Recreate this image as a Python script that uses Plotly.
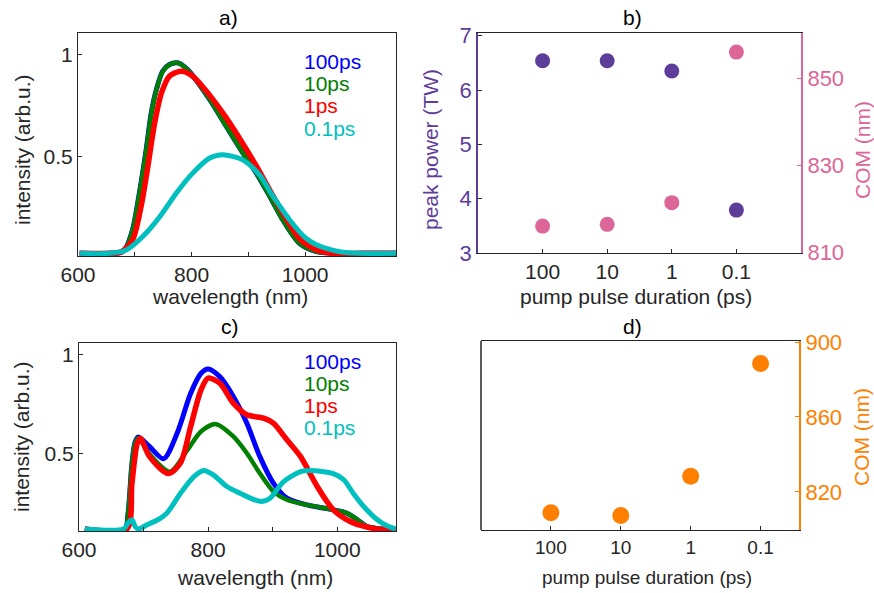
import plotly.graph_objects as go

W, H = 874, 593

# ---------------- data ----------------
# panel a) spectra
a_wl_100 = [603, 655, 673, 682, 696, 708, 720, 729, 738, 749, 761, 776, 793, 832, 861, 890, 914, 935, 961, 990, 1020, 1050, 1100, 1160]
a_int_100 = [0.028, 0.028, 0.03, 0.044, 0.142, 0.322, 0.534, 0.714, 0.828, 0.918, 0.951, 0.959, 0.926, 0.78, 0.649, 0.52, 0.42, 0.32, 0.19, 0.077, 0.036, 0.028, 0.028, 0.028]
a_wl_10 = a_wl_100
a_int_10 = [0.028, 0.028, 0.03, 0.044, 0.140, 0.318, 0.530, 0.710, 0.826, 0.916, 0.950, 0.958, 0.925, 0.78, 0.649, 0.52, 0.42, 0.32, 0.19, 0.077, 0.036, 0.028, 0.028, 0.028]
a_wl_1 = [603, 655, 676, 696, 711, 723, 735, 747, 761, 782, 802, 832, 861, 890, 915, 935, 961, 990, 1020, 1049, 1100, 1160]
a_int_1 = [0.028, 0.028, 0.036, 0.093, 0.256, 0.452, 0.665, 0.812, 0.894, 0.918, 0.894, 0.80, 0.69, 0.565, 0.45, 0.35, 0.224, 0.10, 0.044, 0.028, 0.028, 0.028]
a_wl_01 = [603, 655, 685, 714, 744, 773, 802, 832, 855, 890, 920, 938, 955, 973, 1000, 1020, 1061, 1100, 1160]
a_int_01 = [0.028, 0.028, 0.044, 0.11, 0.207, 0.322, 0.42, 0.494, 0.51, 0.485, 0.41, 0.33, 0.26, 0.19, 0.105, 0.07, 0.036, 0.028, 0.028]

# panel c) spectra
c_wl_100 = [609, 671, 676, 682, 687, 692, 709, 731, 752, 773, 789, 800, 818, 839, 860, 880, 901, 922, 953, 994, 1015, 1031, 1046, 1072, 1090]
c_int_100 = [0.12, 0.12, 0.2, 0.45, 0.56, 0.585, 0.537, 0.475, 0.604, 0.806, 0.907, 0.929, 0.89, 0.79, 0.655, 0.487, 0.352, 0.276, 0.242, 0.217, 0.2, 0.167, 0.133, 0.12, 0.12]
c_wl_10 = [609, 671, 676, 682, 687, 692, 709, 741, 768, 789, 812, 839, 860, 880, 901, 922, 953, 994, 1015, 1031, 1046, 1072, 1090]
c_int_10 = [0.12, 0.12, 0.2, 0.45, 0.555, 0.58, 0.5, 0.41, 0.52, 0.613, 0.65, 0.588, 0.503, 0.402, 0.31, 0.268, 0.242, 0.217, 0.2, 0.167, 0.133, 0.12, 0.12]
c_wl_1 = [609, 674, 682, 690, 695, 709, 738, 757, 773, 789, 800, 818, 839, 860, 886, 901, 922, 943, 969, 994, 1020, 1046, 1072, 1090]
c_int_1 = [0.12, 0.12, 0.35, 0.55, 0.579, 0.487, 0.40, 0.453, 0.638, 0.823, 0.882, 0.857, 0.756, 0.697, 0.68, 0.655, 0.571, 0.487, 0.335, 0.217, 0.158, 0.13, 0.116, 0.115]
c_wl_01 = [609, 669, 676, 682, 687, 692, 705, 720, 736, 757, 778, 793, 808, 829, 850, 870, 883, 896, 917, 943, 958, 994, 1010, 1025, 1041, 1062, 1077, 1090]
c_int_01 = [0.12, 0.12, 0.15, 0.167, 0.133, 0.12, 0.141, 0.163, 0.2, 0.30, 0.385, 0.416, 0.394, 0.335, 0.30, 0.27, 0.259, 0.276, 0.36, 0.41, 0.416, 0.40, 0.369, 0.30, 0.234, 0.167, 0.136, 0.12]

# panels b) and d)
durations = ["100", "10", "1", "0.1"]
b_peak_power = [6.54, 6.54, 6.35, 3.79]
b_com = [816.0, 816.4, 821.4, 856.1]
d_com = [808.8, 807.4, 828.3, 888.6]

series_labels = ["100ps", "10ps", "1ps", "0.1ps"]
series_colors = ["#0000FF", "#008000", "#FF0000", "#00BFBF"]
PURPLE, PINK, ORANGE = "#5E3C99", "#DD6699", "#FF7F00"
TXT = "#262626"
FONT = "Liberation Sans, Arial, sans-serif"


def px(x):
    return x / W


def py(y):
    return 1 - y / H


fig = go.Figure()

widths = [5, 4.5, 5.5, 5]
a_sets = [(a_wl_100, a_int_100), (a_wl_10, a_int_10), (a_wl_1, a_int_1), (a_wl_01, a_int_01)]
c_sets = [(c_wl_100, c_int_100), (c_wl_10, c_int_10), (c_wl_1, c_int_1), (c_wl_01, c_int_01)]
for (xs, ys), col, w in zip(a_sets, series_colors, widths):
    fig.add_trace(go.Scatter(x=xs, y=ys, mode="lines", line=dict(color=col, width=w, shape="spline", smoothing=0.8),
                             xaxis="x", yaxis="y", showlegend=False))
for (xs, ys), col, w in zip(c_sets, series_colors, widths):
    fig.add_trace(go.Scatter(x=xs, y=ys, mode="lines", line=dict(color=col, width=w, shape="spline", smoothing=0.8),
                             xaxis="x3", yaxis="y4", showlegend=False))

fig.add_trace(go.Scatter(x=durations, y=b_peak_power, mode="markers", marker=dict(color=PURPLE, size=15),
                         xaxis="x2", yaxis="y2", showlegend=False))
fig.add_trace(go.Scatter(x=durations, y=b_com, mode="markers", marker=dict(color=PINK, size=15),
                         xaxis="x2", yaxis="y3", showlegend=False))
fig.add_trace(go.Scatter(x=durations, y=d_com, mode="markers", marker=dict(color=ORANGE, size=17),
                         xaxis="x4", yaxis="y5", showlegend=False))

tickfont = dict(family=FONT, size=21, color=TXT)
common = dict(showgrid=False, zeroline=False, ticks="inside", ticklen=4, tickcolor=TXT, automargin=False,
              showline=True, linecolor=TXT, linewidth=1, tickfont=tickfont)

fig.update_layout(
    template="none",
    width=W, height=H, margin=dict(l=0, r=0, t=0, b=0, autoexpand=False),
    paper_bgcolor="white", plot_bgcolor="rgba(0,0,0,0)",
    font=dict(family=FONT, color=TXT),
    # a)
    xaxis=dict(common, domain=[px(78), px(396)], anchor="y", range=[600, 1160],
               tickvals=[600, 700, 800, 900, 1000], ticktext=["600", "", "800", "", "1000"], mirror=True),
    yaxis=dict(common, domain=[py(256), py(33)], anchor="x", range=[0.015, 1.105],
               tickvals=[0.5, 1], ticktext=["0.5", "1"], mirror=True),
    # b)
    xaxis2=dict(common, domain=[px(478), px(801)], anchor="y2", type="category", range=[-1, 4],
                mirror=True),
    yaxis2=dict(common, domain=[py(253), py(33)], anchor="x2", range=[3, 7.05],
                tickvals=[3, 4, 5, 6, 7], linecolor=PURPLE, linewidth=1.5,
                tickfont=dict(family=FONT, size=22, color=PURPLE)),
    yaxis3=dict(common, overlaying="y2", anchor="x2", side="right", range=[809.8, 860.5],
                tickvals=[810, 830, 850], linecolor=PINK, linewidth=2, tickcolor=PINK,
                tickfont=dict(family=FONT, size=22, color=PINK)),
    # c)
    xaxis3=dict(common, domain=[px(79), px(396)], anchor="y4", range=[600, 1091],
                tickvals=[600, 700, 800, 900, 1000], ticktext=["600", "", "800", "", "1000"], mirror=True),
    yaxis4=dict(common, domain=[py(531), py(343)], anchor="x3", range=[0.11, 1.06],
                tickvals=[0.5, 1], ticktext=["0.5", "1"], mirror=True),
    # d)
    xaxis4=dict(common, domain=[px(481), px(799)], anchor="y5", type="category", range=[-1, 3.55],
                mirror=True, tickfont=dict(family=FONT, size=19, color=TXT)),
    yaxis5=dict(common, domain=[py(530), py(341)], anchor="x4", side="right", range=[799.6, 900.6],
                tickvals=[820, 860, 900], linecolor=ORANGE, linewidth=2, tickcolor=ORANGE,
                tickfont=dict(family=FONT, size=22, color=ORANGE)),
    shapes=[dict(type="line", xref="paper", yref="paper", x0=px(481), x1=px(481), y0=py(530), y1=py(341),
                 line=dict(color=TXT, width=1.5))],
)

ann = []


def add_text(text, x, y, size=22, color=TXT, angle=0, xanchor="center"):
    ann.append(dict(text=text, x=px(x), y=py(y), xref="paper", yref="paper", showarrow=False,
                    font=dict(family=FONT, size=size, color=color), textangle=angle,
                    xanchor=xanchor, yanchor="middle"))


# panel titles
add_text("a)", 228, 17, size=21, color="black")
add_text("b)", 632, 17, size=21, color="black")
add_text("c)", 230, 326, size=21, color="black")
add_text("d)", 632, 326, size=21, color="black")
# axis titles
add_text("wavelength (nm)", 230, 296, size=21)
add_text("wavelength (nm)", 255, 577, size=21)
add_text("pump pulse duration (ps)", 636, 296, size=21)
add_text("pump pulse duration (ps)", 647, 577, size=19)
add_text("intensity (arb.u.)", 22, 150, size=21, angle=-90)
add_text("intensity (arb.u.)", 22, 437, size=21, angle=-90)
add_text("peak power (TW)", 430, 150, size=21, color=PURPLE, angle=-90)
add_text("COM (nm)", 862, 150, size=21, color=PINK, angle=-90)
add_text("COM (nm)", 862, 437, size=21, color=ORANGE, angle=-90)
# series labels
for i, (lab, col) in enumerate(zip(series_labels, series_colors)):
    add_text(lab, 302, 62 + 22 * i, size=21, color=col, xanchor="left")
    add_text(lab, 302, 362 + 21.7 * i, size=21, color=col, xanchor="left")

fig.update_layout(annotations=ann)
fig.write_html("out.html", config={"displayModeBar": False},
               post_script="document.body.style.margin='0px';document.body.style.padding='0px';")
